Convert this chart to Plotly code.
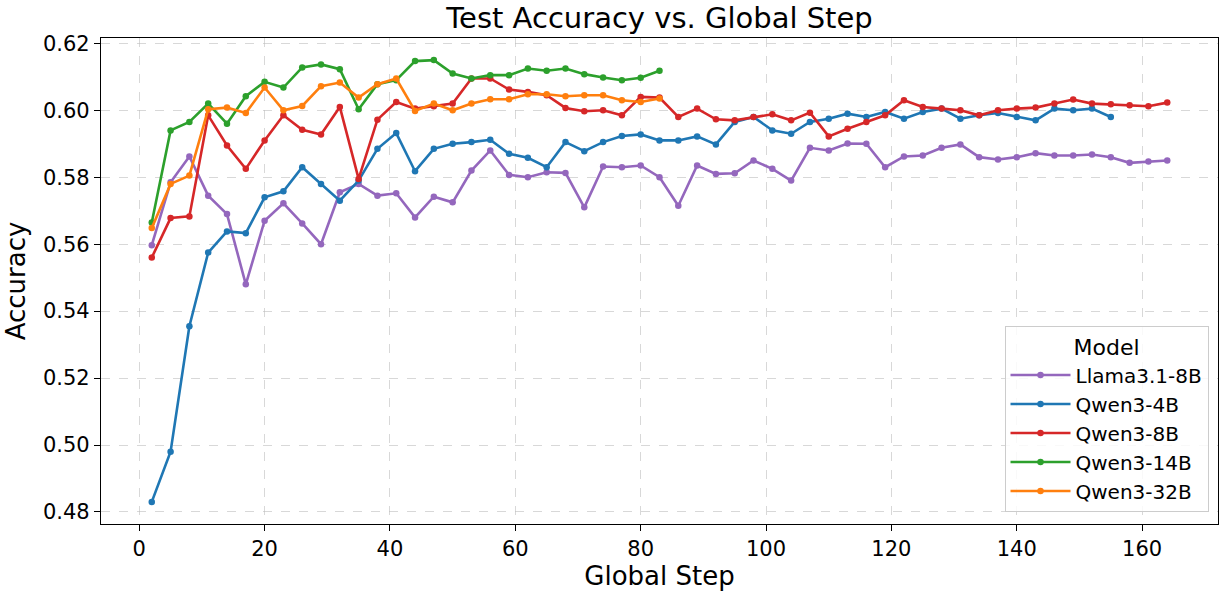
import plotly.graph_objects as go

steps_all = list(range(2, 165, 3))

llama = [0.5597, 0.5785, 0.5862, 0.5745, 0.569, 0.548, 0.567, 0.5722, 0.5662, 0.560,
         0.5755, 0.578, 0.5745, 0.5752, 0.568, 0.5742, 0.5725, 0.582, 0.588, 0.5807,
         0.580, 0.5815, 0.5813, 0.571, 0.5832, 0.583, 0.5835, 0.580, 0.5715, 0.5835,
         0.581, 0.5812, 0.585, 0.5825, 0.579, 0.5888, 0.588, 0.5901, 0.590, 0.583,
         0.5862, 0.5865, 0.5888, 0.5898, 0.586, 0.5853, 0.586, 0.5872, 0.5865, 0.5865,
         0.5868, 0.586, 0.5843, 0.5847, 0.585]

qwen4 = [0.483, 0.498, 0.5355, 0.5575, 0.5638, 0.5633, 0.574, 0.5758, 0.583, 0.578,
         0.573, 0.579, 0.5885, 0.5932, 0.5818, 0.5885, 0.590, 0.5905, 0.5912, 0.587,
         0.5858, 0.583, 0.5905, 0.5878, 0.5905, 0.5923, 0.5928, 0.591, 0.591, 0.5922,
         0.5898, 0.5965, 0.598, 0.594, 0.593, 0.5965, 0.5975, 0.599, 0.598, 0.5995,
         0.5975, 0.5995, 0.6005, 0.5975, 0.5985, 0.5992, 0.598, 0.597, 0.6005, 0.600,
         0.6005, 0.598]

qwen8 = [0.556, 0.5678, 0.5683, 0.5985, 0.5895, 0.5825, 0.591, 0.5985, 0.5942, 0.5928,
         0.601, 0.5795, 0.5972, 0.6025, 0.6005, 0.6012, 0.602, 0.6095, 0.6095, 0.6062,
         0.6055, 0.6045, 0.6007, 0.5997, 0.600, 0.5985, 0.604, 0.6038, 0.598, 0.6005,
         0.5973, 0.597, 0.598, 0.5988, 0.597, 0.5993, 0.5922, 0.5945, 0.5965, 0.5985,
         0.603, 0.601, 0.6005, 0.600, 0.5985, 0.600, 0.6005, 0.6008, 0.602, 0.6032,
         0.602, 0.6018, 0.6015, 0.6012, 0.6023]

qwen14 = [0.5665, 0.594, 0.5965, 0.602, 0.596, 0.6042, 0.6085, 0.6068, 0.6128, 0.6137,
          0.6123, 0.6003, 0.6078, 0.609, 0.6147, 0.615, 0.611, 0.6095, 0.6105, 0.6105,
          0.6125, 0.6118, 0.6125, 0.6108, 0.6098, 0.609, 0.6097, 0.6118]

qwen32 = [0.5648, 0.578, 0.5805, 0.6003, 0.6008, 0.5992, 0.6068, 0.600, 0.6013, 0.6072,
          0.6083, 0.6038, 0.6078, 0.6095, 0.5998, 0.602, 0.600, 0.602, 0.6033, 0.6033,
          0.6048, 0.6048, 0.6042, 0.6045, 0.6045, 0.603, 0.6025, 0.6035]

series = [
    ("Llama3.1-8B", llama, "#9467bd"),
    ("Qwen3-4B", qwen4, "#1f77b4"),
    ("Qwen3-8B", qwen8, "#d62728"),
    ("Qwen3-14B", qwen14, "#2ca02c"),
    ("Qwen3-32B", qwen32, "#ff7f0e"),
]

x_ticks = [0, 20, 40, 60, 80, 100, 120, 140, 160]
y_ticks = [0.48, 0.50, 0.52, 0.54, 0.56, 0.58, 0.60, 0.62]

fig = go.Figure()
for name, vals, color in series:
    fig.add_trace(go.Scatter(
        x=steps_all[:len(vals)], y=vals, name=name, mode="lines+markers",
        line=dict(color=color, width=2.6), marker=dict(color=color, size=6.5),
    ))

FONT = "DejaVu Sans"
axis_common = dict(
    showline=True, linecolor="black", linewidth=1.3, mirror=True,
    ticks="outside", ticklen=6, tickcolor="black", tickwidth=1.3,
    showgrid=True, gridcolor="rgba(190,190,190,0.6)", griddash="dash", gridwidth=1,
    zeroline=False, automargin=False,
    tickfont=dict(family=FONT, size=21, color="black"),
)

fig.update_layout(
    width=1225, height=593,
    margin=dict(l=101, r=7, t=38, b=69),
    paper_bgcolor="white", plot_bgcolor="white",
    font=dict(family=FONT, color="black"),
    title=dict(text="Test Accuracy vs. Global Step", x=0.5, xref="paper", xanchor="center",
               y=0.97, yanchor="middle", automargin=False,
               font=dict(family=FONT, size=29, color="black")),
    xaxis=dict(range=[-6.1, 172.1], tickvals=x_ticks,
               title=dict(text="Global Step", font=dict(family=FONT, size=26), standoff=4),
               **axis_common),
    yaxis=dict(range=[0.4764, 0.6216], tickvals=y_ticks, tickformat=".2f",
               title=dict(text="Accuracy", font=dict(family=FONT, size=26), standoff=9),
               **axis_common),
    legend=dict(
        title=dict(text="Model", side="top center", font=dict(family=FONT, size=22)),
        x=0.9915, y=0.025, xanchor="right", yanchor="bottom",
        bgcolor="rgba(255,255,255,0.85)", bordercolor="#cccccc", borderwidth=1,
        font=dict(family=FONT, size=20), itemwidth=60, tracegroupgap=4,
    ),
)

fig.write_html("out.html", config={"displayModeBar": False},
               post_script="document.body.style.margin='0';")
